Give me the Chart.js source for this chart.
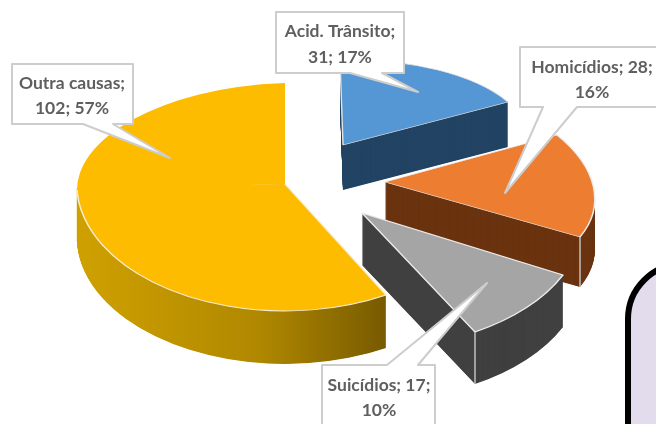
<!DOCTYPE html>
<html>
<head>
<meta charset="utf-8">
<style>
html, body { margin: 0; padding: 0; background: #fff; width: 656px; height: 424px; overflow: hidden; }
#wrap { position: relative; width: 656px; height: 424px; overflow: hidden; filter: blur(0.7px); }
#Chart { position: absolute; left: 0; top: 0; }
#note { position: absolute; left: 625px; top: 261px; width: 120px; height: 220px; box-sizing: border-box;
  border: 6px solid #000; border-radius: 58px; background: #e2dcec; }
</style>
</head>
<body>
<div id="wrap">
  <canvas id="Chart" width="656" height="424"></canvas>
  <div id="note"></div>
</div>
<script src="https://cdn.jsdelivr.net/npm/chart.js@4"></script>
<script>
var categories = ['Acid. Trânsito', 'Homicídios', 'Suicídios', 'Outra causas'];
var deaths = [31, 28, 17, 102];
var percents = [17, 16, 10, 57];
var topColors = ['#5596d5', '#ed7d31', '#a5a5a5', '#fdbc00'];
var sideColors = ['#234464', '#6b3410', '#404040', null];

// how each slice sits in the fake 3d view: apex on the page + where two rim angles land
var sliceViews = [
    { apex: [343, 145], depth: 45, parts: [{ a: 'start', pa: [340, 60], b: 'end', pb: [508, 102], rim: '#e4e4e4' }] },
    { apex: [385, 182], depth: 50, seam: 'end', parts: [{ a: 'start', pa: [557, 135], b: 'end', pb: [580, 237], rim: '#ececec' }] },
    { apex: [362, 213], depth: 52, seam: 'end', parts: [{ a: 'start', pa: [563, 275], b: 'end', pb: [475, 332], rim: '#ececec' }] },
    { apex: [285, 184], depth: 53, parts: [
        { a: 'start', pa: [386, 295], b: Math.PI, pb: [77, 190], rim: '#f6ecd0', clipTo: [[77, 188], [-100, 188], [-100, 600], [800, 600], [800, 182]] },
        { a: Math.PI, pa: [77, 190], b: 'end', pb: [285, 83], flat: true, clipTo: [[77, 190], [-100, 190], [-100, -100], [800, -100], [800, 184]] }
    ] }
];

// tail = base, tip, base, walked along the box edge
var callouts = [
    { box: [276, 12, 404, 73], tail: [[382, 73], [418, 92], [350, 73]], split: 1, x: 340, y: [31, 57] },
    { box: [520, 47, 662, 107], tail: [[577, 107], [505, 193], [543, 107]], split: 2, x: 592, y: [67, 92] },
    { box: [322, 365, 435, 432], tail: [[387, 365], [487, 283], [418, 365]], split: 2, onTop: true, x: 379, y: [385, 410] },
    { box: [12, 64, 133, 124], tail: [[113, 124], [170, 158], [83, 124]], split: 1, x: 72, y: [83, 108] }
];

function anglePoint(angle) {
    return [Math.cos(angle), Math.sin(angle)];
}

// solve the 2x2 matrix sending two rim directions onto the page points
function fitView(arc, view, part) {
    var angA = part.a === 'start' ? arc.startAngle : part.a === 'end' ? arc.endAngle : part.a;
    var angB = part.b === 'start' ? arc.startAngle : part.b === 'end' ? arc.endAngle : part.b;
    var p = anglePoint(angA), q = anglePoint(angB);
    var ux = part.pa[0] - view.apex[0], uy = part.pa[1] - view.apex[1];
    var vx = part.pb[0] - view.apex[0], vy = part.pb[1] - view.apex[1];
    var det = p[0] * q[1] - p[1] * q[0];
    var a = (ux * q[1] - vx * p[1]) / det;
    var c = (vx * p[0] - ux * q[0]) / det;
    var b = (uy * q[1] - vy * p[1]) / det;
    var d = (vy * p[0] - uy * q[0]) / det;
    var R = arc.outerRadius;
    return [a / R, b / R, c / R, d / R];
}

function drawSlicePart(ctx, arc, view, part, dy, fill, border) {
    var m = fitView(arc, view, part);
    ctx.save();
    ctx.translate(0, dy);
    if (part.clipTo) {
        ctx.beginPath();
        ctx.moveTo(view.apex[0], view.apex[1]);
        part.clipTo.forEach(function(pt) { ctx.lineTo(pt[0], pt[1]); });
        ctx.closePath();
        ctx.clip();
    }
    ctx.transform(m[0], m[1], m[2], m[3], view.apex[0], view.apex[1]);
    ctx.translate(-arc.x, -arc.y);
    var copy = Object.create(arc);
    copy.options = Object.assign({}, arc.options, {
        backgroundColor: fill,
        borderColor: border,
        borderWidth: border === fill ? 0 : 1.6,
        borderAlign: 'center'
    });
    copy.draw(ctx);
    ctx.restore();
}

var pie3d = {
    id: 'pie3d',
    beforeDatasetsDraw: function(chart) {
        var ctx = chart.ctx;
        var arcs = chart.getDatasetMeta(0).data;
        [3, 0, 1, 2].forEach(function(i) {
            var arc = arcs[i], view = sliceViews[i];
            var side = sideColors[i];
            if (!side) {
                var R = arc.outerRadius;
                side = ctx.createLinearGradient(arc.x - R, 0, arc.x + R * 0.5, 0);
                side.addColorStop(0, '#cfa000');
                side.addColorStop(0.55, '#b08800');
                side.addColorStop(1, '#725600');
            }
            view.parts.forEach(function(part) {
                if (part.flat) return;
                for (var d = view.depth; d > 0; d -= 0.5) {
                    drawSlicePart(ctx, arc, view, part, d, side, side);
                }
            });
            view.parts.forEach(function(part) {
                drawSlicePart(ctx, arc, view, part, 0, topColors[i], part.rim || topColors[i]);
            });
            if (view.seam) {
                var end = view.parts[0].pb;
                ctx.strokeStyle = '#c9c9c9';
                ctx.lineWidth = 1.4;
                ctx.beginPath();
                ctx.moveTo(end[0], end[1]);
                ctx.lineTo(end[0], end[1] + view.depth);
                ctx.stroke();
            }
        });
        return false;
    },
    afterDraw: function(chart) {
        var ctx = chart.ctx;
        callouts.forEach(function(c, i) {
            var b = c.box;
            ctx.beginPath();
            ctx.moveTo(b[0], b[1]);
            if (c.onTop) {
                c.tail.forEach(function(pt) { ctx.lineTo(pt[0], pt[1]); });
            }
            ctx.lineTo(b[2], b[1]);
            ctx.lineTo(b[2], b[3]);
            if (!c.onTop) {
                c.tail.forEach(function(pt) { ctx.lineTo(pt[0], pt[1]); });
            }
            ctx.lineTo(b[0], b[3]);
            ctx.closePath();
            ctx.fillStyle = '#ffffff';
            ctx.fill();
            ctx.strokeStyle = '#cdcdcd';
            ctx.lineWidth = 2;
            ctx.lineJoin = 'round';
            ctx.stroke();

            var tokens = [categories[i] + ';', deaths[i] + ';', percents[i] + '%'];
            var lines = [tokens.slice(0, c.split).join(' '), tokens.slice(c.split).join(' ')];
            ctx.fillStyle = '#5f5f5f';
            ctx.font = 'bold 17.5px Lato';
            ctx.textAlign = 'center';
            ctx.textBaseline = 'middle';
            lines.forEach(function(line, k) {
                ctx.fillText(line, c.x, c.y[k]);
            });
        });
    }
};

var ctx = document.getElementById('Chart').getContext('2d');
var myChart = new Chart(ctx, {
    type: 'pie',
    data: {
        labels: categories,
        datasets: [{
            data: deaths,
            backgroundColor: topColors
        }]
    },
    options: {
        responsive: false,
        animation: false,
        events: [],
        plugins: {
            legend: { display: false },
            tooltip: { enabled: false }
        }
    },
    plugins: [pie3d]
});
</script>
</body>
</html>
